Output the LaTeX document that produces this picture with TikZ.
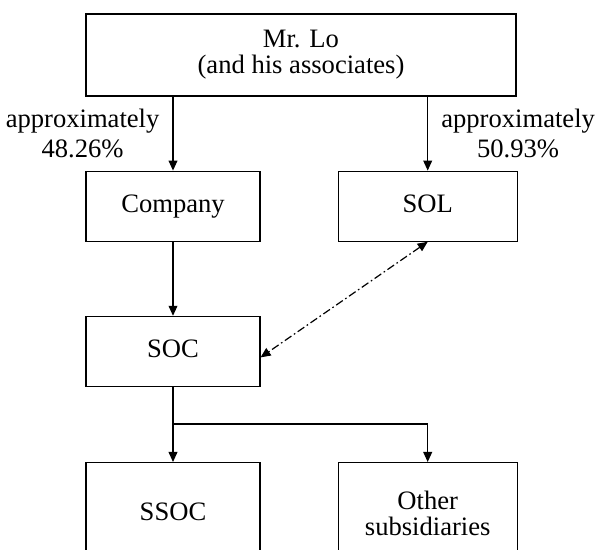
\documentclass[tikz,border=0pt]{standalone}
\usepackage{fontspec}
\setmainfont{Liberation Serif}
\usepackage{tikz}
\usetikzlibrary{arrows.meta, positioning, calc}
\tikzstyle{box} = [rectangle, draw=black, line width=0.6pt, minimum width=87pt,
                   minimum height=35pt, align=center, font=\fontsize{13.3}{13}\selectfont]
\tikzstyle{one} = [text height=9pt, text depth=2.5pt]
\tikzstyle{pct} = [align=center, inner sep=6.5pt, font=\fontsize{13.3}{15}\selectfont]
\tikzstyle{arr} = [-{Triangle[length=5pt,width=4.4pt]}, line width=0.6pt]
\tikzstyle{link} = [{Triangle[length=5pt,width=4.4pt]}-{Triangle[length=5pt,width=4.4pt]},
                    line width=0.6pt, dash pattern=on 4pt off 1.5pt on 0.8pt off 1.5pt]

\begin{document}
\begin{tikzpicture}
    \useasboundingbox (0,0) rectangle (298pt,-275pt);
    \clip (0,0) rectangle (298pt,-275pt);

    \node[box, minimum width=215pt, minimum height=41pt] (lo) at (150.5pt,-27.5pt) {Mr. Lo\\(and his associates)};
    \node[box, one, below=37pt of lo.south west, anchor=north west] (comp) {Company};
    \node[box, one, minimum width=89.5pt, right=38.5pt of comp] (sol) {SOL};
    \node[box, one, below=37pt of comp] (soc) {SOC};
    \node[box, one, minimum height=51pt, below=37.5pt of soc] (ssoc) {SSOC};
    \node[box, minimum width=89.5pt, minimum height=51pt, right=38.5pt of ssoc] (other) {Other\\subsidiaries};
    \coordinate (branch) at ($(soc.south)+(0,-18.5pt)$);

    \draw[arr] (lo.south -| comp.north) -- node[pct, left] {approximately\\48.26\%} (comp.north);
    \draw[arr] (lo.south -| sol.north) -- node[pct, right] {approximately\\50.93\%} (sol.north);
    \draw[arr] (comp) -- (soc);
    \draw[link] (sol.south) -- ([yshift=-3pt]soc.east);
    \draw[arr] (soc) -- (ssoc);
    \draw[arr] (branch) -| (other.north);
  \end{tikzpicture}
\end{document}
